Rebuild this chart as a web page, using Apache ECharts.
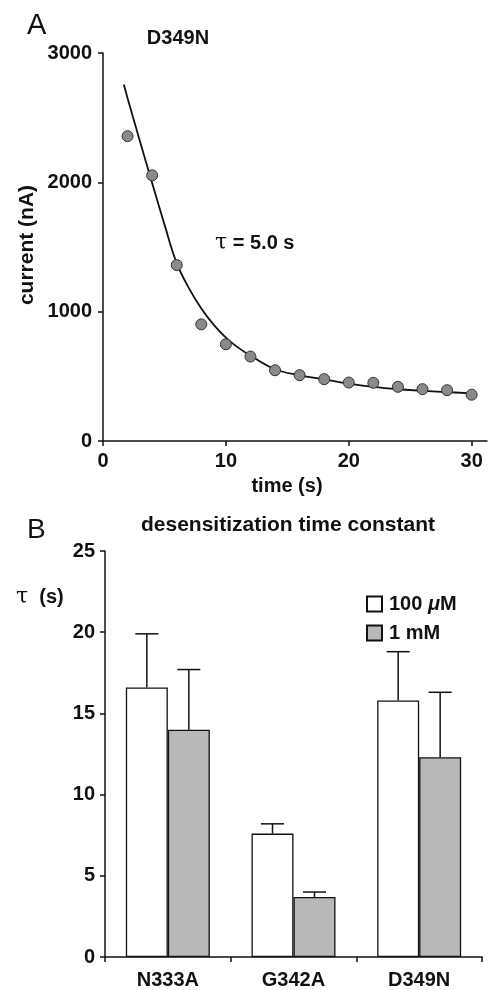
<!DOCTYPE html>
<html>
<head>
<meta charset="utf-8">
<script src="https://cdn.jsdelivr.net/npm/echarts@6/dist/echarts.min.js"></script>
<style>
html,body{margin:0;padding:0;background:#fff;}
#chart{width:488px;height:990px;}
</style>
</head>
<body>
<div id="chart"></div>
<script>
// ---- Panel A data ----
const timeS = [2, 4, 6, 8, 10, 12, 14, 16, 18, 20, 22, 24, 26, 28, 30];
const currentNA = [2357, 2054, 1360, 902, 748, 653, 547, 509, 478, 452, 450, 419, 401, 393, 358];
const fitTime = [1.7, 2, 3, 4, 5, 6, 7, 8, 9, 10, 11, 12, 14, 16, 18, 20, 22, 24, 26, 28, 30];
const fitCurrent = [2756, 2650, 2320, 1995, 1675, 1375, 1180, 1025, 900, 800, 722, 661, 555, 508, 476, 443, 418, 400, 387, 378, 368];
const xTicksA = [0, 10, 20, 30];

// ---- Panel B data ----
const mutants = ['N333A', 'G342A', 'D349N'];
const tau100uM = [16.6, 7.6, 15.8];
const tau100uMErrTop = [19.9, 8.2, 18.8];
const tau1mM = [14.0, 3.7, 12.3];
const tau1mMErrTop = [17.7, 4.0, 16.3];
const seriesNames = ['100 μM', '1 mM'];

const FONT = 'Liberation Sans, Arial, Helvetica, sans-serif';
const BAR_W = 42;

const chart = echarts.init(document.getElementById('chart'), null, {renderer: 'canvas'});

const errData = [];
mutants.forEach((m, i) => {
  errData.push([i, tau100uM[i], tau100uMErrTop[i], 0]);
  errData.push([i, tau1mM[i], tau1mMErrTop[i], 1]);
});

const axisLineStyle = {color: '#111', width: 1.5};
const labelStyle = {color: '#111', fontFamily: FONT, fontWeight: 'bold', fontSize: 20};
const plain = v => String(v);

const option = {
  animation: false,
  backgroundColor: '#fff',
  grid: [
    {left: 103, top: 53, width: 384, height: 388, containLabel: false},
    {left: 105, top: 551, width: 377, height: 407, containLabel: false}
  ],
  xAxis: [
    {
      gridIndex: 0, type: 'value', min: 0, max: 31.25,
      axisLine: {show: true, lineStyle: axisLineStyle},
      axisTick: {show: true, length: 5, lineStyle: axisLineStyle, customValues: xTicksA},
      axisLabel: Object.assign({margin: 10, customValues: xTicksA, formatter: plain}, labelStyle),
      splitLine: {show: false}
    },
    {
      gridIndex: 1, type: 'category', data: mutants,
      axisLine: {show: true, lineStyle: axisLineStyle},
      axisTick: {show: true, length: 5, lineStyle: axisLineStyle},
      axisLabel: Object.assign({margin: 13}, labelStyle),
      splitLine: {show: false}
    }
  ],
  yAxis: [
    {
      gridIndex: 0, type: 'value', min: 0, max: 3000, interval: 1000,
      axisLine: {show: true, lineStyle: axisLineStyle},
      axisTick: {show: true, length: 5, lineStyle: axisLineStyle},
      axisLabel: Object.assign({margin: 11, formatter: plain}, labelStyle),
      splitLine: {show: false}
    },
    {
      gridIndex: 1, type: 'value', min: 0, max: 25, interval: 5,
      axisLine: {show: true, lineStyle: axisLineStyle},
      axisTick: {show: true, length: 5, lineStyle: axisLineStyle},
      axisLabel: Object.assign({margin: 10, formatter: plain}, labelStyle),
      splitLine: {show: false}
    }
  ],
  legend: {
    data: seriesNames,
    orient: 'vertical',
    left: 361, top: 589,
    itemWidth: 15, itemHeight: 15, itemGap: 9,
    icon: 'rect',
    textStyle: {color: '#111', fontFamily: FONT, fontWeight: 'bold', fontSize: 20, padding: [0, 0, 0, 2],
      rich: {i: {fontStyle: 'italic', fontFamily: FONT, fontWeight: 'bold', fontSize: 20, color: '#111'}}},
    formatter: function (name) { return name.replace('μ', '{i|μ}'); }
  },
  series: [
    {
      type: 'line', xAxisIndex: 0, yAxisIndex: 0,
      data: fitTime.map((t, i) => [t, fitCurrent[i]]),
      smooth: 0.4, showSymbol: false,
      lineStyle: {color: '#111', width: 1.8},
      z: 2
    },
    {
      type: 'scatter', xAxisIndex: 0, yAxisIndex: 0,
      data: timeS.map((t, i) => [t, currentNA[i]]),
      symbolSize: 11,
      itemStyle: {color: '#8a8a8a', borderColor: '#333', borderWidth: 1, opacity: 1},
      z: 3
    },
    {
      name: seriesNames[0], type: 'bar', xAxisIndex: 1, yAxisIndex: 1,
      data: tau100uM, barWidth: BAR_W, barGap: '0%',
      itemStyle: {color: '#ffffff', borderColor: '#111', borderWidth: 1.3}
    },
    {
      name: seriesNames[1], type: 'bar', xAxisIndex: 1, yAxisIndex: 1,
      data: tau1mM, barWidth: BAR_W, barGap: '0%',
      itemStyle: {color: '#b8b8b8', borderColor: '#111', borderWidth: 1.3}
    },
    {
      type: 'custom', xAxisIndex: 1, yAxisIndex: 1,
      data: errData,
      renderItem: function (params, api) {
        const cat = api.value(0);
        const sIdx = api.value(3);
        const base = api.coord([cat, api.value(1)]);
        const top = api.coord([cat, api.value(2)]);
        const x = base[0] + (sIdx === 0 ? -BAR_W / 2 : BAR_W / 2);
        const capHalf = 11.5;
        return {
          type: 'group',
          children: [
            {type: 'line', shape: {x1: x, y1: base[1], x2: x, y2: top[1]}, style: {stroke: '#111', lineWidth: 1.5}},
            {type: 'line', shape: {x1: x - capHalf, y1: top[1], x2: x + capHalf, y2: top[1]}, style: {stroke: '#111', lineWidth: 1.5}}
          ]
        };
      },
      z: 1
    }
  ],
  graphic: [
    {type: 'text', left: 27, top: 11, style: {text: 'A', font: '29px ' + FONT, fill: '#111'}},
    {type: 'text', x: 178, y: 38, style: {text: 'D349N', font: 'bold 20px ' + FONT, fill: '#111', align: 'center', verticalAlign: 'middle'}},
    {type: 'text', x: 27, y: 245, rotation: Math.PI / 2, style: {text: 'current (nA)', font: 'bold 21px ' + FONT, fill: '#111', align: 'center', verticalAlign: 'middle'}},
    {type: 'text', x: 287, y: 486, style: {text: 'time (s)', font: 'bold 20px ' + FONT, fill: '#111', align: 'center', verticalAlign: 'middle'}},
    {type: 'text', x: 215, y: 243, style: {text: '{t|τ} = 5.0 s', font: 'bold 20px ' + FONT, fill: '#111', align: 'left', verticalAlign: 'middle',
      rich: {t: {font: '22px DejaVu Serif, Liberation Serif, serif', fill: '#111'}}}},
    {type: 'text', left: 27, top: 516, style: {text: 'B', font: '28px ' + FONT, fill: '#111'}},
    {type: 'text', x: 288, y: 525, style: {text: 'desensitization time constant', font: 'bold 21px ' + FONT, fill: '#111', align: 'center', verticalAlign: 'middle'}},
    {type: 'text', x: 16, y: 597, style: {text: '{t|τ}  (s)', font: 'bold 20px ' + FONT, fill: '#111', align: 'left', verticalAlign: 'middle',
      rich: {t: {font: '22px DejaVu Serif, Liberation Serif, serif', fill: '#111'}}}}
  ]
};

chart.setOption(option);
</script>
</body>
</html>
